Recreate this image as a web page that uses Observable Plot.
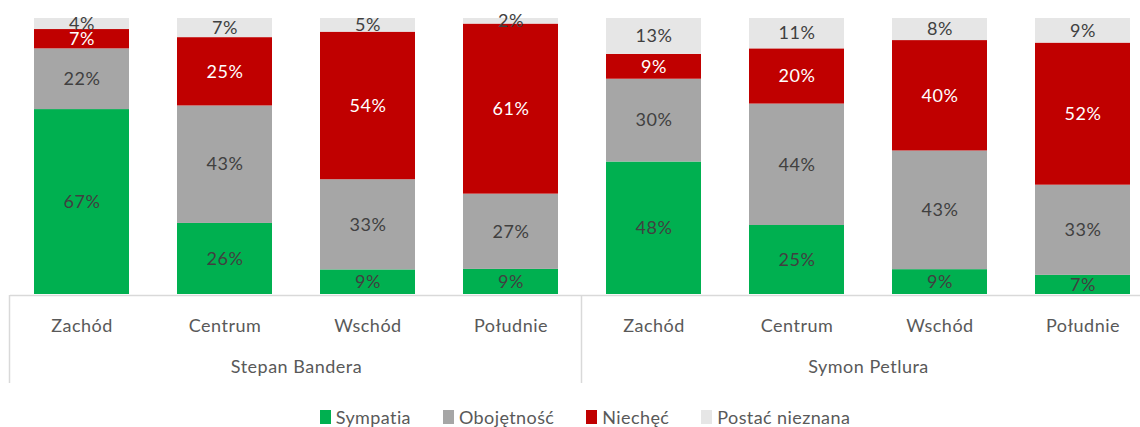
<!DOCTYPE html>
<html>
<head>
<meta charset="utf-8">
<script src="https://cdn.jsdelivr.net/npm/d3@7"></script>
<script src="https://cdn.jsdelivr.net/npm/@observablehq/plot@0.6"></script>
<style>
  html, body { margin: 0; padding: 0; background: #fff; }
  #wrap { width: 1140px; height: 427px; overflow: hidden; position: relative; font-family: Lato, "Noto Sans", sans-serif; }
  #chart { width: 1140px; height: 395px; overflow: hidden; }
  #legend { display: flex; justify-content: center; align-items: center; padding-left: 30px; padding-top: 12px;
            font-size: 18px; line-height: 20px; color: #595959; letter-spacing: 0.4px; }
  .item { display: flex; align-items: center; margin: 0 16px; }
  .sw { width: 11px; height: 14px; margin-right: 5px; }
</style>
</head>
<body>
<div id="wrap">
  <div id="chart"></div>
  <div id="legend"></div>
</div>
<script>
const persons = ["Stepan Bandera", "Symon Petlura"];
const regions = ["Zachód", "Centrum", "Wschód", "Południe"];
const categories = ["Sympatia", "Obojętność", "Niechęć", "Postać nieznana"];
const colors = ["#00b050", "#a6a6a6", "#c00000", "#e6e6e6"];
const labelColors = ["#404040", "#404040", "#ffffff", "#404040"];

// values per person, per region: [Sympatia, Obojętność, Niechęć, Postać nieznana]
const bandera = [
  [67, 22, 7, 4],
  [26, 43, 25, 7],
  [9, 33, 54, 5],
  [9, 27, 61, 2]
];
const petlura = [
  [48, 30, 9, 13],
  [25, 44, 20, 11],
  [9, 43, 40, 8],
  [7, 33, 52, 9]
];
const series = [bandera, petlura];

const rows = [];
persons.forEach((p, pi) => {
  regions.forEach((r, ri) => {
    categories.forEach((c, ci) => {
      rows.push({person: p, region: r, cat: c, ci, value: series[pi][ri][ci]});
    });
  });
});

const stackOpts = {fx: "person", x: "region", y: "value", z: "cat", offset: "normalize"};

const chart = Plot.plot({
  width: 1154,
  height: 395,
  marginLeft: 10,
  marginRight: 0,
  marginTop: 18,
  marginBottom: 101,
  style: {fontFamily: "Lato, 'Noto Sans', sans-serif", fontSize: "18px", color: "#595959", background: "#fff",
          maxWidth: "none", letterSpacing: "0.5px"},
  fx: {domain: persons, padding: 0, label: null},
  x: {domain: regions, paddingInner: 0.336, paddingOuter: 0.168, label: null},
  y: {domain: [0, 1], axis: null},
  color: {type: "identity"},
  marks: [
    Plot.barY(rows, Plot.stackY({...stackOpts, fill: d => colors[d.ci]})),
    Plot.ruleY([0], {stroke: "#d9d9d9", strokeWidth: 1.5, dy: 1}),
    Plot.text(rows, Plot.stackY({...stackOpts, text: d => d.value + "%", fill: d => labelColors[d.ci], fontSize: 18})),
    Plot.axisX({anchor: "bottom", tickSize: 0, tickPadding: 25, label: null, fill: "#595959", fontSize: 18}),
    Plot.axisFx({anchor: "bottom", tickSize: 0, tickPadding: 66, label: null, fill: "#595959", fontSize: 18})
  ]
});

// group separators positioned via the plot's own scales
const fx = chart.scale("fx");
const y = chart.scale("y");
const y0 = y.apply(0) + 1;
const seps = persons.map(p => fx.apply(p)).concat([fx.apply(persons[persons.length - 1]) + fx.bandwidth]);
const svg = d3.select(chart);
svg.append("g").selectAll("line").data(seps).join("line")
  .attr("x1", d => d - 0.5).attr("x2", d => d - 0.5)
  .attr("y1", y0).attr("y2", y0 + 88)
  .attr("stroke", "#d9d9d9").attr("stroke-width", 1.5);

document.getElementById("chart").append(chart);

const legend = document.getElementById("legend");
categories.forEach((c, i) => {
  const it = document.createElement("div");
  it.className = "item";
  const sw = document.createElement("div");
  sw.className = "sw";
  sw.style.background = colors[i];
  const t = document.createElement("span");
  t.textContent = c;
  it.append(sw, t);
  legend.append(it);
});
</script>
</body>
</html>
